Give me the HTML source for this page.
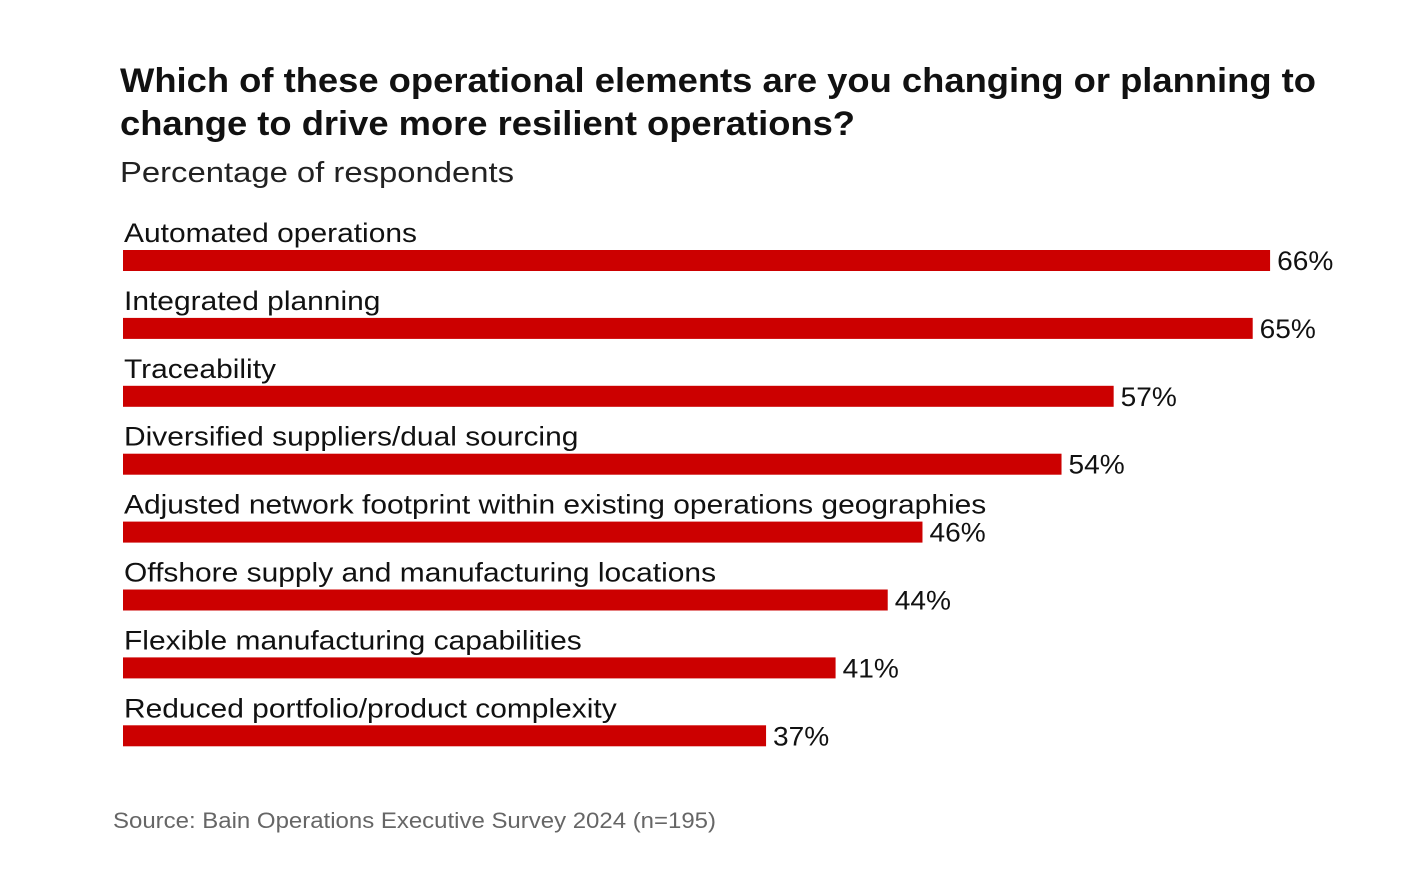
<!DOCTYPE html>
<html><head><meta charset="utf-8"><style>
html,body{margin:0;padding:0;background:#fff;}
svg{display:block;font-family:"Liberation Sans",sans-serif;}
</style></head><body>
<svg id="chart" width="1418" height="886" viewBox="0 0 1418 886">
<text x="120" y="92" font-size="34" font-weight="bold" fill="#111" textLength="1196" lengthAdjust="spacingAndGlyphs">Which of these operational elements are you changing or planning to</text>
<text x="120" y="135" font-size="34" font-weight="bold" fill="#111" textLength="735" lengthAdjust="spacingAndGlyphs">change to drive more resilient operations?</text>
<text x="120" y="182" font-size="29" fill="#222" textLength="394" lengthAdjust="spacingAndGlyphs">Percentage of respondents</text>
<g id="bars"></g>
<text x="113" y="828" font-size="22" fill="#666" textLength="603" lengthAdjust="spacingAndGlyphs">Source: Bain Operations Executive Survey 2024 (n=195)</text>
</svg>
<script>
const categories = ["Automated operations","Integrated planning","Traceability","Diversified suppliers/dual sourcing","Adjusted network footprint within existing operations geographies","Offshore supply and manufacturing locations","Flexible manufacturing capabilities","Reduced portfolio/product complexity"];
const values = [66,65,57,54,46,44,41,37];
const valueLabels = ["66%","65%","57%","54%","46%","44%","41%","37%"];

const x0 = 123, pxPer = 17.38, top0 = 250, step = 67.9, barH = 21;
const xScale = v => x0 + v * pxPer;
const yScale = i => top0 + i * step;
const NS = "http://www.w3.org/2000/svg";
const g = document.getElementById("bars");
categories.forEach((c, i) => {
  const y = yScale(i);
  const lab = document.createElementNS(NS, "text");
  
  
  lab.setAttribute("x", x0 + 1); lab.setAttribute("y", y - 8);
  lab.setAttribute("font-size", "26.5"); lab.setAttribute("fill", "#111");
  lab.textContent = c; g.appendChild(lab);
  lab.setAttribute("textLength", lab.getComputedTextLength() * 1.13);
  lab.setAttribute("lengthAdjust", "spacingAndGlyphs");
  const r = document.createElementNS(NS, "rect");
  
  
  r.setAttribute("x", x0); r.setAttribute("y", y);
  r.setAttribute("width", xScale(values[i]) - x0); r.setAttribute("height", barH);
  r.setAttribute("fill", "#cc0000"); g.appendChild(r);
  const v = document.createElementNS(NS, "text");
  
  
  v.setAttribute("x", xScale(values[i]) + 7); v.setAttribute("y", y + 20);
  v.setAttribute("font-size", "26.5"); v.setAttribute("fill", "#111");
  v.textContent = valueLabels[i]; g.appendChild(v);
  v.setAttribute("textLength", v.getComputedTextLength() * 1.06);
  v.setAttribute("lengthAdjust", "spacingAndGlyphs");
});
</script>
</body></html>
